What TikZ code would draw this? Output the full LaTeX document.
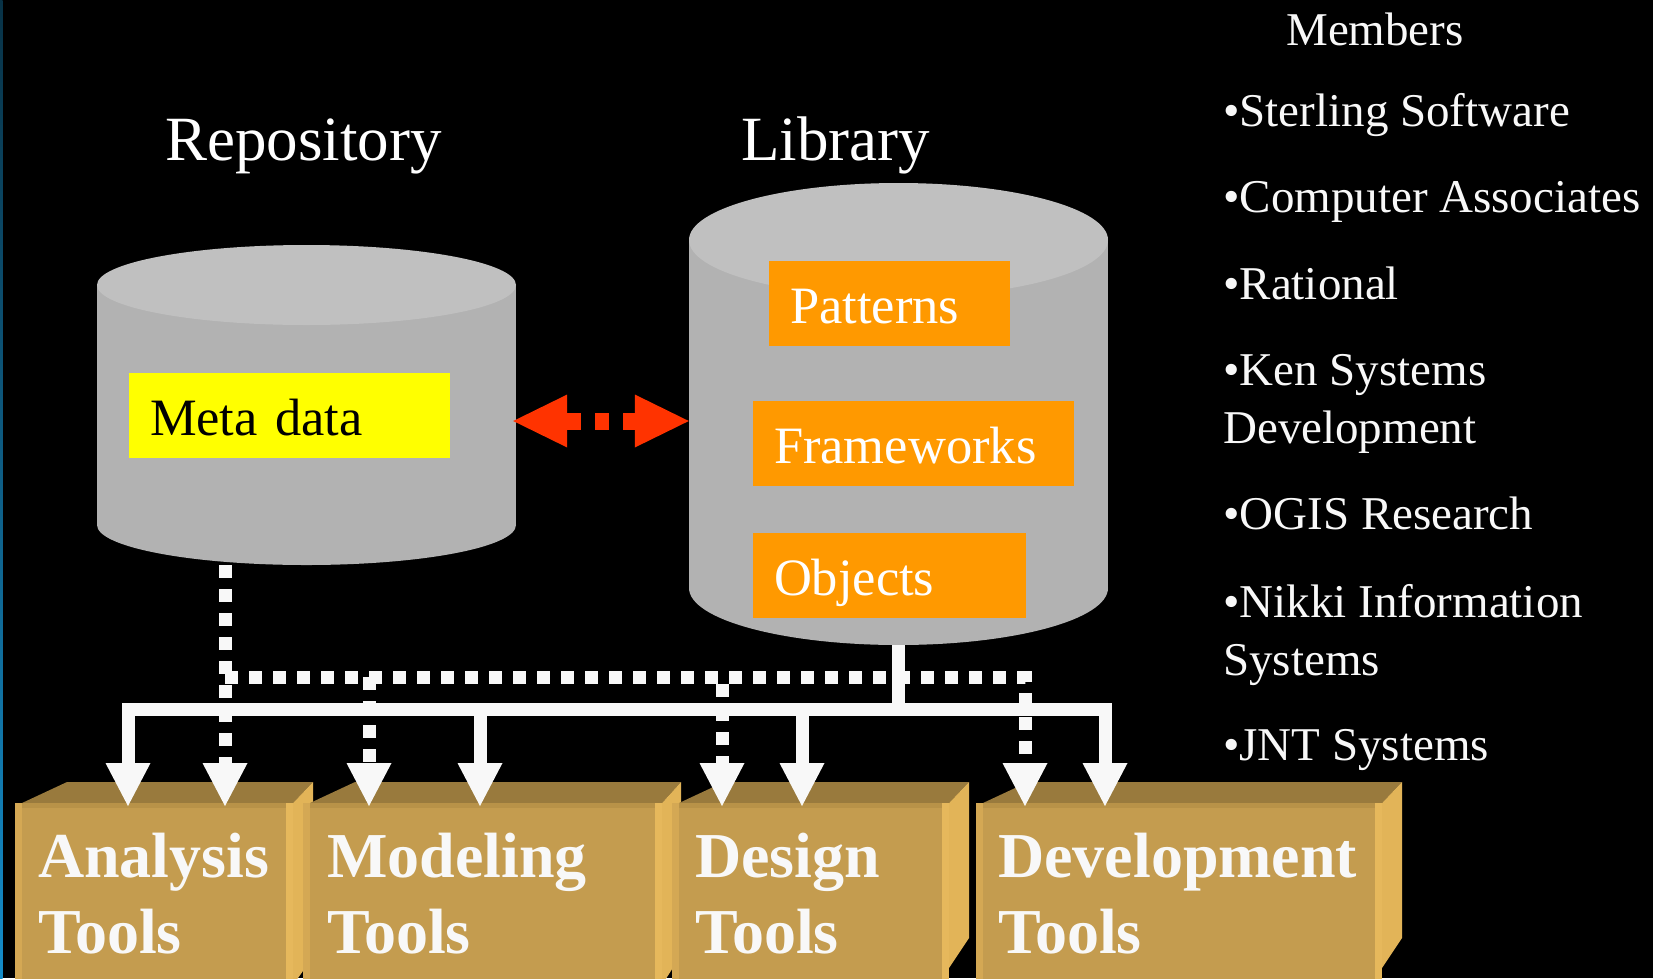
\documentclass[tikz,border=0pt]{standalone}
\usepackage{fontspec}
\setmainfont{Liberation Serif}
\usetikzlibrary{arrows.meta}

\definecolor{cylside}{RGB}{178,178,178}
\definecolor{cyltop}{RGB}{192,192,192}
\definecolor{metayellow}{RGB}{255,255,0}
\definecolor{liborange}{RGB}{255,153,0}
\definecolor{linkred}{RGB}{255,51,0}
\definecolor{wirewhite}{RGB}{248,248,248}
\definecolor{toolfill}{RGB}{196,156,79}
\definecolor{tooltop}{RGB}{153,122,61}
\definecolor{toolside}{RGB}{226,180,88}
\definecolor{toolbevel}{RGB}{212,168,84}
\definecolor{toolrim}{RGB}{230,184,92}
\definecolor{toolband}{RGB}{184,146,72}
\definecolor{edgetop}{RGB}{8,50,70}
\definecolor{edgebot}{RGB}{20,140,200}

\tikzset{
  title/.style={anchor=base west, inner sep=0pt, text=white, font=\fontsize{63}{70}\selectfont},
  inbox/.style={fill=liborange, text=white, inner xsep=21pt, inner ysep=0pt, minimum height=85pt,
    text height=39pt, text depth=0pt, align=left, font=\fontsize{52.5}{60}\selectfont},
  member/.style={anchor=base west, inner sep=0pt, text=wirewhite, align=left, font=\fontsize{47}{58}\selectfont},
  tooltext/.style={anchor=base west, inner sep=0pt, text=wirewhite, align=left, font=\bfseries\fontsize{64}{76}\selectfont},
  cylbox/.style={inner sep=0pt},
  toolfront/.style={fill=toolfill, path picture={
    \fill[toolband] (path picture bounding box.north west) rectangle ([yshift=-5pt]path picture bounding box.north east);
    \fill[toolbevel] (path picture bounding box.north west) rectangle ([xshift=7pt]path picture bounding box.south west);
    \fill[toolrim] ([xshift=-7pt]path picture bounding box.north east) rectangle (path picture bounding box.south east);}},
  tip/.style={-{Triangle[width=45pt,length=43pt,line width=0pt]}},
  wire/.style={draw=wirewhite, line width=13pt},
  dots/.style={draw=wirewhite, line width=13pt, dash pattern=on 13pt off 11pt},
  link/.style={draw=linkred, line width=17pt, dash pattern=on 14pt off 14pt,
    {Triangle[width=53pt,length=54pt,line width=0pt]}-{Triangle[width=53pt,length=54pt,line width=0pt]}}
}

\begin{document}
\begin{tikzpicture}[x=1pt,y=-1pt]
\useasboundingbox (0,0) rectangle (1653,978);
\clip (0,0) rectangle (1653,978);
\fill[black] (0,0) rectangle (1653,978);
\shade[top color=edgetop,bottom color=edgebot] (0,0) rectangle (2.5,978);

% repository and library drums
\fill[cylside] (306.5,525) ellipse (209.5 and 40);
\fill[cylside] (97,285) rectangle (516,525);
\fill[cyltop] (306.5,285) ellipse (209.5 and 40);
\node[cylbox, minimum width=413pt, minimum height=320pt] (repo) at (306.5,405) {};
\fill[cylside] (898.5,588) ellipse (209.5 and 57);
\fill[cylside] (689,240) rectangle (1108,588);
\fill[cyltop] (898.5,240) ellipse (209.5 and 57);
\node[cylbox, minimum width=419pt, minimum height=462pt] (lib) at (898.5,414) {};

\node[title] (repolbl) at (165,160) {Repository};
\node[title] (liblbl) at (741,160) {Library};

\node[inbox, fill=metayellow, text=black, text width=279pt] (meta) at (289.5,415.5) {Meta data};
\node[inbox, text width=199pt] (pat) at (889.5,303.5) {Patterns};
\node[inbox, text width=279pt] (frm) at (913.5,443.5) {Frameworks};
\node[inbox, text width=231pt] (obj) at (889.5,575.5) {Objects};

\coordinate (lk) at (0,421);
\draw[link] (lk -| repo.east) -- (lk -| lib.west);

% tool boxes
\fill[tooltop] (22,803) -- (67,782) -- (313,782) -- (293,803) -- cycle;
\fill[toolside] (293,803) -- (313,782) -- (313,957) -- (293,985) -- cycle;
\path[toolfront] (15,803) rectangle (293,985);
\node[tooltext] (ana) at (38,953) {Analysis\\Tools};

\fill[tooltop] (310,803) -- (355,782) -- (681,782) -- (662,803) -- cycle;
\fill[toolside] (662,803) -- (681,782) -- (681,955) -- (662,985) -- cycle;
\path[toolfront] (303,803) rectangle (662,985);
\node[tooltext] (mod) at (327,953) {Modeling\\Tools};

\fill[tooltop] (679,803) -- (724,782) -- (969,782) -- (949,803) -- cycle;
\fill[toolside] (949,803) -- (969,782) -- (969,938) -- (949,968) -- cycle;
\path[toolfront] (672,803) rectangle (949,985);
\node[tooltext] (des) at (695,953) {Design\\Tools};

\fill[tooltop] (983,803) -- (1028,782) -- (1402,782) -- (1382,803) -- cycle;
\fill[toolside] (1382,803) -- (1402,782) -- (1402,938) -- (1382,968) -- cycle;
\path[toolfront] (976,803) rectangle (1382,985);
\node[tooltext] (dev) at (998,953) {Development\\Tools};

% connectors
\coordinate (bus) at (898.5,709.5);
\coordinate (dbus) at (225,677);
\coordinate (ana-s) at (128,806);
\coordinate (ana-d) at (225,806);
\coordinate (mod-d) at (369,806);
\coordinate (mod-s) at (480,806);
\coordinate (des-d) at (722,806);
\coordinate (des-s) at (802,806);
\coordinate (dev-d) at (1025,806);
\coordinate (dev-s) at (1105,806);

\draw[dots,tip] (repo.south -| dbus) -- (ana-d);
\draw[dots,tip] (dbus) -| (mod-d);
\draw[dots,tip] (dbus) -| (des-d);
\draw[dots,tip] (dbus) -| (dev-d);

\draw[wire] (lib.south) -- (bus);
\draw[wire,tip] (bus) -| (ana-s);
\draw[wire,tip] (bus) -| (mod-s);
\draw[wire,tip] (bus) -| (des-s);
\draw[wire,tip] (bus) -| (dev-s);

% members
\node[member] (mhead) at (1286,45) {Members};
\node[member] (m1) at (1223,126) {•Sterling Software};
\node[member] (m2) at (1223,212) {•Computer Associates};
\node[member] (m3) at (1223,299) {•Rational};
\node[member] (m4) at (1223,443) {•Ken Systems\\Development};
\node[member] (m5) at (1223,529) {•OGIS Research};
\node[member] (m6) at (1223,675) {•Nikki Information\\Systems};
\node[member] (m7) at (1223,760) {•JNT Systems};
\end{tikzpicture}
\end{document}
